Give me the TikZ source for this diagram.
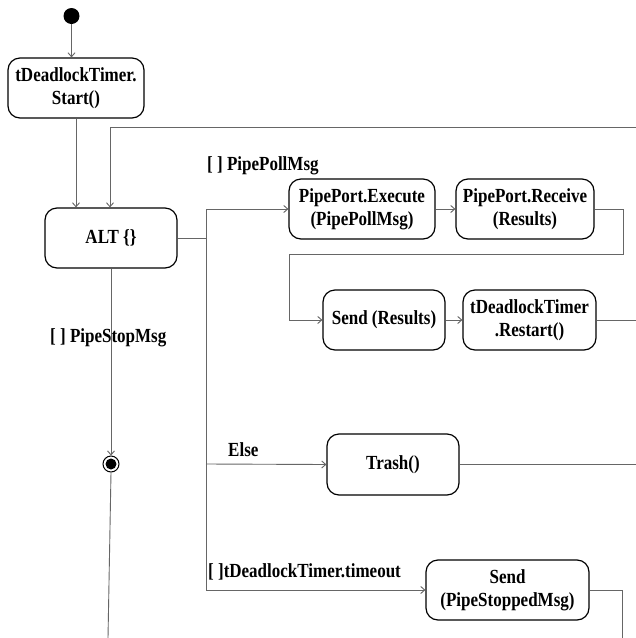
\documentclass[tikz,border=0pt]{standalone}
\usepackage{fontspec}
\setmainfont{Liberation Serif}[FakeStretch=0.85]
\usetikzlibrary{arrows.meta}
\begin{document}
\begin{tikzpicture}[x=1pt,y=-1pt,
  every node/.style={font=\fontsize{20}{23}\selectfont\bfseries, inner sep=0pt},
  act/.style={draw=black, line width=1.2pt, rounded corners=12pt, align=center, fill=white},
  conn/.style={draw=black!60, line width=0.9pt},
  arr/.style={conn, -{Straight Barb[length=4pt,width=7pt]}},
  lbl/.style={anchor=west}]
\useasboundingbox (0,0) rectangle (636,638);
\fill[white] (0,0) rectangle (636,638);
% nodes
\node[circle, fill=black, minimum size=16pt] (init) at (71.5,16) {};
\node[act, minimum width=136pt, minimum height=60pt] (start) at (76,88) {tDeadlockTimer.\\Start()};
\node[act, minimum width=132pt, minimum height=60pt] (alt) at (111,238) {ALT \{\}};
\node[act, minimum width=146pt, minimum height=60pt] (exec) at (362,209) {PipePort.Execute\\(PipePollMsg)};
\node[act, minimum width=138pt, minimum height=60pt] (recv) at (525,209) {PipePort.Receive\\(Results)};
\node[act, minimum width=122pt, minimum height=60pt] (sendr) at (384,320) {Send (Results)};
\node[act, minimum width=133pt, minimum height=60pt] (restart) at (529.5,320) {tDeadlockTimer\\.Restart()};
\node[act, minimum width=132pt, minimum height=61pt] (trash) at (393,464.5) {Trash()};
\node[act, minimum width=163pt, minimum height=60pt] (sendp) at (507.5,590) {Send\\(PipeStoppedMsg)};
\node[circle, draw=black, line width=1pt, minimum size=16pt] (fin) at (111,464) {};
\fill[black] (fin.center) circle (5.5pt);
% coordinates
\coordinate (loopR) at (636,127);
\coordinate (loopL) at (110,127);
\coordinate (splitA) at (206,238);
\coordinate (splitTop) at (206,209);
\coordinate (splitElse) at (206,464);
\coordinate (splitBot) at (206,590);
\coordinate (rcvR) at (623,209);
\coordinate (rcvRD) at (623,254);
\coordinate (rcvLD) at (289,254);
\coordinate (rcvL) at (289,320);
\coordinate (restartR) at (636,320);
\coordinate (trashR) at (636,464.5);
\coordinate (sendpR) at (622,590);
\coordinate (sendpD) at (622,638);
\coordinate (finD) at (108,638);
% connectors
\draw[arr] (init.south) -- (init.south |- start.north);
\draw[arr] (start.south) -- (start.south |- alt.north);
\draw[arr] (loopR) -- (loopL) -- (loopL |- alt.north);
\draw[conn] (alt.east) -- (splitA);
\draw[conn] (splitTop) -- (splitBot);
\draw[arr] (splitTop) -- (exec.west);
\draw[arr] (exec.east) -- (recv.west);
\draw[arr] (recv.east) -- (rcvR) -- (rcvRD) -- (rcvLD) -- (rcvL) -- (sendr.west);
\draw[arr] (sendr.east) -- (restart.west);
\draw[conn] (restart.east) -- (restartR);
\draw[arr] (alt.south) -- (fin.north);
\draw[conn] (fin.south) -- (finD);
\draw[arr] (splitElse) -- (trash.west);
\draw[conn] (trash.east) -- (trashR);
\draw[arr] (splitBot) -- (sendp.west);
\draw[conn] (sendp.east) -- (sendpR) -- (sendpD);
% labels
\node[lbl] (lPoll) at (207,166) {[ ] PipePollMsg};
\node[lbl] (lStop) at (50,338) {[ ] PipeStopMsg};
\node[lbl] (lElse) at (228,450) {Else};
\node[lbl] (lTime) at (208,572) {[ ]tDeadlockTimer.timeout};
\end{tikzpicture}
\end{document}
